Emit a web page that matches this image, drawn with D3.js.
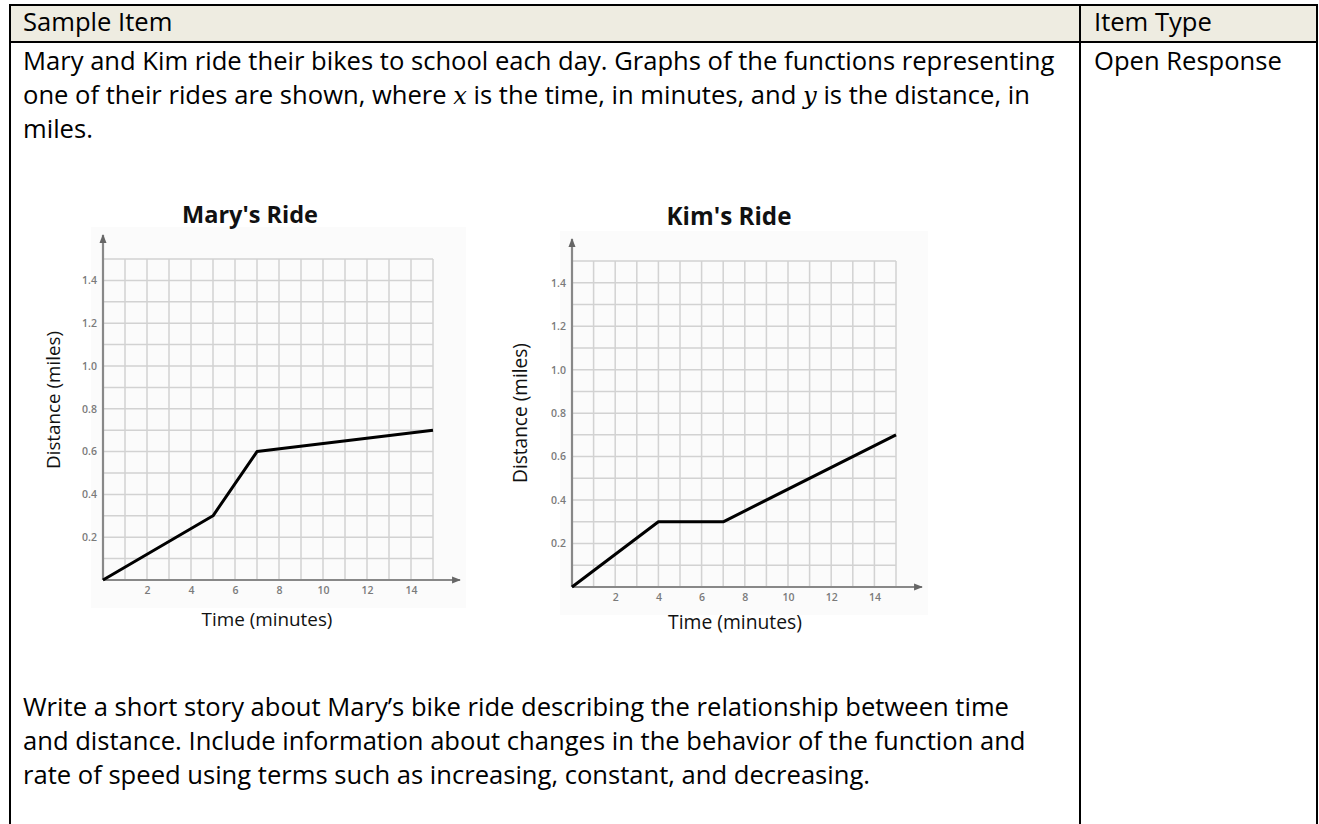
<!DOCTYPE html>
<html>
<head>
<meta charset="utf-8">
<script src="https://cdn.jsdelivr.net/npm/d3@7"></script>
<style>
  body { margin: 0; background: #fff; }
  svg text { font-family: "Open Sans", sans-serif; }
</style>
</head>
<body>
<div id="item"></div>
<script>
// ride data
const maryTime = [0, 5, 7, 15];
const maryDist = [0, 0.3, 0.6, 0.7];
const kimTime = [0, 4, 7, 15];
const kimDist = [0, 0.3, 0.3, 0.7];
const xTicks = [2, 4, 6, 8, 10, 12, 14];
const yTicks = [0.2, 0.4, 0.6, 0.8, 1.0, 1.2, 1.4];

const headerCells = ['Sample Item', 'Item Type'];
const itemType = 'Open Response';
// [text, italic]
const introLines = [
    [['Mary and Kim ride their bikes to school each day. Graphs of the functions representing', false]],
    [['one of their rides are shown, where ', false], ['x', true], [' is the time, in minutes, and ', false], ['y', true], [' is the distance, in', false]],
    [['miles.', false]]
];
const promptLines = [
    'Write a short story about Mary\u2019s bike ride describing the relationship between time',
    'and distance. Include information about changes in the behavior of the function and',
    'rate of speed using terms such as increasing, constant, and decreasing.'
];

const W = 1319, H = 824;
const svg = d3.select('#item').append('svg').attr('width', W).attr('height', H);

// scale a text's font size so it spans the given width
function fitSize(sel, base, target) {
    sel.style('font-size', base + 'px');
    const w = sel.node().getComputedTextLength();
    return base * target / w;
}

// table frame (runs on past the bottom of the page)
const tL = 10, tR = 1317, tT = 5, tHead = 42, tB = H + 2, tCol = 1080;
svg.append('rect').attr('x', tL).attr('y', tT).attr('width', tR - tL).attr('height', tHead - tT).style('fill', '#eeece1');
const frame = svg.append('g').style('stroke', '#000').style('stroke-width', 2);
frame.append('line').attr('x1', tL - 1).attr('x2', tR + 1).attr('y1', tT).attr('y2', tT);
frame.append('line').attr('x1', tL).attr('x2', tR).attr('y1', tHead).attr('y2', tHead);
[tL, tCol, tR].forEach(xv => {
    frame.append('line').attr('x1', xv).attr('x2', xv).attr('y1', tT).attr('y2', tB);
});

// body text, sized so the first line spans like the original
const textX = 23;
const probe = svg.append('text').attr('x', textX).attr('y', 70).text(introLines[0][0][0]);
const fs = fitSize(probe, 18, 1032);
probe.remove();

const body = svg.append('g').style('font-size', fs + 'px').style('fill', '#000');
body.append('text').attr('x', textX).attr('y', 31).text(headerCells[0]);
body.append('text').attr('x', 1094).attr('y', 31).text(headerCells[1]);
body.append('text').attr('x', 1094).attr('y', 70).text(itemType);

introLines.forEach((segs, i) => {
    const t = body.append('text').attr('x', textX).attr('y', 70 + i * 34);
    segs.forEach(([s, it]) => {
        const ts = t.append('tspan').text(s);
        if (it) ts.style('font-family', '"DejaVu Serif", serif').style('font-style', 'italic').style('font-size', (fs * 0.95) + 'px');
    });
});
promptLines.forEach((s, i) => {
    body.append('text').attr('x', textX).attr('y', 716 + i * 34).text(s);
});

svg.append('defs').append('marker')
    .attr('id', 'arrow').attr('viewBox', '0 0 10 10').attr('refX', 9).attr('refY', 5)
    .attr('markerWidth', 4).attr('markerHeight', 4).attr('orient', 'auto')
    .append('path').attr('d', 'M0,1L10,5L0,9Z').style('fill', '#666');

function drawChart(cfg) {
    const x = d3.scaleLinear().domain([0, 15]).range(cfg.xr);
    const y = d3.scaleLinear().domain([0, 1.5]).range(cfg.yr);
    const g = svg.append('g');

    g.append('rect')
        .attr('x', cfg.xr[0] - 12).attr('y', cfg.yTop - 8)
        .attr('width', cfg.xEnd - cfg.xr[0] + 18).attr('height', cfg.yr[0] - cfg.yTop + 36)
        .style('fill', '#fbfbfb');

    const grid = g.append('g').style('stroke', '#d2d2d2').style('stroke-width', 1.5);
    grid.selectAll('.vx').data(x.ticks(15).filter(d => d > 0)).enter().append('line')
        .attr('x1', d => x(d)).attr('x2', d => x(d)).attr('y1', y(0)).attr('y2', y(1.5));
    grid.selectAll('.hy').data(y.ticks(15).filter(d => d > 0)).enter().append('line')
        .attr('x1', x(0)).attr('x2', x(15)).attr('y1', d => y(d)).attr('y2', d => y(d));

    // axes with arrow heads
    g.append('line').attr('x1', x(0)).attr('x2', x(0)).attr('y1', y(0)).attr('y2', cfg.yTop)
        .style('stroke', '#888').style('stroke-width', 2.2).attr('marker-end', 'url(#arrow)');
    g.append('line').attr('x1', x(0)).attr('x2', cfg.xEnd).attr('y1', y(0)).attr('y2', y(0))
        .style('stroke', '#888').style('stroke-width', 2.2).attr('marker-end', 'url(#arrow)');

    const yAx = g.append('g').attr('transform', `translate(${x(0) - 2},0)`)
        .call(d3.axisLeft(y).tickValues(yTicks).tickSize(0).tickPadding(4).tickFormat(d3.format('.1f')));
    const xAx = g.append('g').attr('transform', `translate(0,${y(0) + 3})`)
        .call(d3.axisBottom(x).tickValues(xTicks).tickSize(0).tickPadding(4).tickFormat(d3.format('d')));
    [yAx, xAx].forEach(a => {
        a.select('.domain').remove();
        a.selectAll('text').style('font-family', '"Open Sans", sans-serif').style('font-size', '10.5px').style('fill', '#7a7a7a').style('font-weight', 600);
    });

    const line = d3.line().x(d => x(d[0])).y(d => y(d[1]));
    g.append('path').datum(d3.zip(cfg.time, cfg.dist)).attr('d', line)
        .style('fill', 'none').style('stroke', '#000').style('stroke-width', 3).style('stroke-linejoin', 'round');

    const title = g.append('text').attr('x', cfg.title[1]).attr('y', cfg.title[2])
        .attr('text-anchor', 'middle').style('font-weight', 'bold').style('fill', '#111').text(cfg.title[0]);
    title.style('font-size', fitSize(title, 18, cfg.title[3]) + 'px');

    const xl = g.append('text').attr('x', cfg.xLab[0]).attr('y', cfg.xLab[1])
        .attr('text-anchor', 'middle').style('fill', '#111').text('Time (minutes)');
    xl.style('font-size', fitSize(xl, 13, cfg.xLab[2]) + 'px');

    const yl = g.append('text').attr('transform', `translate(${cfg.yLab[0]},${cfg.yLab[1]}) rotate(-90)`)
        .attr('text-anchor', 'middle').style('fill', '#111').text('Distance (miles)');
    yl.style('font-size', fitSize(yl, 13, cfg.yLab[2]) + 'px');
}

drawChart({
    time: maryTime, dist: maryDist,
    xr: [103, 433], yr: [580, 259], yTop: 235, xEnd: 460,
    title: ["Mary's Ride", 250, 223, 136],
    xLab: [267, 626, 131],
    yLab: [60, 400, 138]
});
drawChart({
    time: kimTime, dist: kimDist,
    xr: [572, 896], yr: [587, 261], yTop: 239, xEnd: 922,
    title: ["Kim's Ride", 729, 225, 125],
    xLab: [735, 629, 134],
    yLab: [527, 413, 140]
});
</script>
</body>
</html>
